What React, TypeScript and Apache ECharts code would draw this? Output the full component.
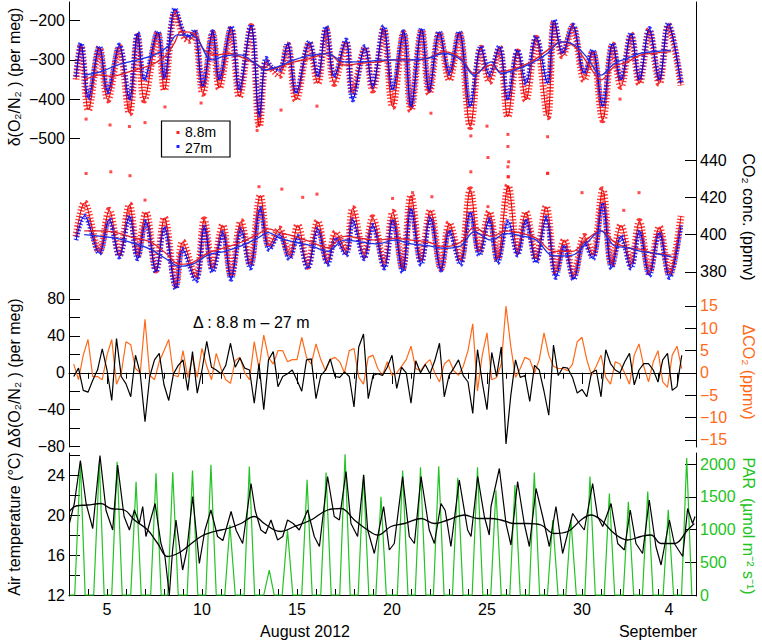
import React, { useEffect, useRef } from "react";
import * as echarts from "echarts";

const FONT = "Liberation Sans";

// x axis: day of August 2012 (32 = Sep 1)
const dayTicks = [4, 5, 6, 7, 8, 9, 10, 11, 12, 13, 14, 15, 16, 17, 18, 19, 20, 21, 22, 23, 24, 25, 26, 27, 28, 29, 30, 31, 32, 33, 34, 35];
const majorDays = [5, 10, 15, 20, 25, 30, 35];

const o2Ticks = [-500, -400, -300, -200];
const co2Ticks = [380, 400, 420, 440];
const dO2Ticks = [-80, -60, -40, -20, 0, 20, 40, 60, 80];
const dO2Labels = [-80, -40, 0, 40, 80];
const dCO2Ticks = [-15, -10, -5, 0, 5, 10, 15];
const tempTicks = [12, 14, 16, 18, 20, 22, 24, 26];
const tempLabels = [12, 16, 20, 24];
const parTicks = [0, 500, 1000, 1500, 2000];

// δ(O2/N2), per meg  [day, value]
const o2Blue = [
  [3.37, -343], [3.63, -258], [4.02, -398], [4.6, -266], [5.04, -381], [5.65, -262], [6.18, -402], [6.61, -232],
  [6.96, -351], [7.67, -228], [8.02, -347], [8.58, -169], [9.04, -232], [9.33, -241], [9.6, -224], [10.04, -368],
  [10.56, -228], [10.91, -351], [11.53, -215], [11.96, -377], [12.58, -211], [13.02, -441], [13.37, -296], [13.63, -317],
  [14.07, -326], [14.5, -258], [14.95, -385], [15.65, -254], [16.09, -343], [16.53, -215], [16.96, -343], [17.58, -249],
  [17.93, -402], [18.58, -266], [18.98, -368], [19.56, -215], [20.03, -377], [20.61, -228], [21.0, -419], [21.56, -220],
  [21.96, -377], [22.49, -228], [23.02, -334], [23.54, -228], [24.12, -419], [24.68, -266], [25.12, -338], [25.65, -266],
  [26.09, -402], [26.61, -275], [27.05, -360], [27.58, -241], [28.19, -360], [28.54, -198], [28.98, -283], [29.51, -211],
  [30.12, -334], [30.56, -275], [31.09, -419], [31.61, -258], [32.05, -351], [32.58, -232], [33.02, -351], [33.54, -220],
  [34.07, -351], [34.54, -207], [35.21, -360],
];
const o2Red = [
  [3.37, -350], [3.63, -265], [4.02, -428], [4.6, -270], [5.04, -402], [5.65, -268], [6.18, -436], [6.61, -240],
  [6.96, -402], [7.67, -232], [8.02, -377], [8.58, -180], [9.04, -240], [9.33, -250], [9.6, -232], [10.04, -385],
  [10.56, -232], [10.91, -372], [11.53, -222], [11.96, -394], [12.58, -215], [13.02, -470], [13.37, -305], [13.63, -320],
  [14.07, -340], [14.5, -262], [14.95, -402], [15.65, -258], [16.09, -360], [16.53, -222], [16.96, -360], [17.58, -255],
  [17.93, -385], [18.58, -270], [18.98, -377], [19.56, -222], [20.03, -419], [20.61, -232], [21.0, -428], [21.56, -225],
  [21.96, -385], [22.49, -232], [23.02, -351], [23.54, -232], [24.12, -470], [24.68, -270], [25.12, -355], [25.65, -270],
  [26.09, -445], [26.61, -280], [27.05, -402], [27.58, -245], [28.19, -445], [28.54, -205], [28.98, -290], [29.51, -215],
  [30.12, -351], [30.56, -280], [31.09, -453], [31.61, -262], [32.05, -368], [32.58, -236], [33.02, -360], [33.54, -225],
  [34.07, -360], [34.54, -212], [35.21, -365],
];
const o2RedOutliers = [
  [3.9, -451], [5.16, -466], [6.18, -470], [7.0, -460], [8.05, -420], [9.95, -410], [12.9, -480], [14.16, -428],
  [16.05, -418], [22.05, -436], [24.15, -494], [25.0, -469], [25.05, -549], [26.1, -490], [26.1, -521], [26.14, -560],
  [26.12, -598], [28.19, -496], [28.19, -589], [32.0, -400],
];
const o2SmoothRed = [
  [3.8, -351], [4.68, -338], [5.2, -342], [6.44, -326], [7.32, -313], [8.02, -292], [8.54, -258], [8.9, -228],
  [9.6, -233], [10.12, -275], [10.82, -287], [11.35, -283], [12.23, -296], [12.93, -313], [13.46, -326], [14.16, -317],
  [14.86, -305], [15.74, -296], [16.61, -283], [17.49, -313], [18.37, -309], [19.25, -305], [20.12, -300], [21.0, -300],
  [21.88, -296], [22.75, -279], [23.63, -296], [24.33, -335], [25.21, -313], [25.74, -330], [26.44, -322], [27.32, -305],
  [28.19, -275], [28.89, -254], [29.6, -266], [30.3, -309], [31.0, -351], [31.7, -317], [32.4, -305], [33.1, -287],
  [33.8, -283], [34.68, -279],
];
const o2SmoothBlue = [
  [3.8, -339], [4.68, -330], [5.56, -313], [6.6, -300], [7.5, -287], [8.2, -266], [8.7, -236], [9.6, -240],
  [10.5, -300], [11.2, -290], [12.0, -287], [12.8, -309], [13.3, -325], [14.0, -317], [14.86, -300], [15.74, -288],
  [16.61, -284], [17.49, -305], [18.37, -305], [19.25, -301], [20.12, -300], [21.0, -300], [21.88, -296], [22.75, -283],
  [23.63, -300], [24.33, -339], [25.21, -305], [25.74, -334], [26.44, -326], [27.32, -309], [28.19, -283], [28.89, -254],
  [29.6, -262], [30.3, -296], [31.0, -339], [31.7, -309], [32.4, -296], [33.1, -283], [33.8, -279], [34.68, -275],
];

// CO2, ppmv  [day, value]
const co2Blue = [
  [3.37, 397], [3.81, 410], [4.6, 390], [5.12, 408], [5.65, 388], [6.18, 410], [6.61, 387], [7.05, 407],
  [7.58, 380], [8.02, 404], [8.63, 371], [8.98, 392], [9.68, 375], [10.12, 404], [10.56, 380], [11.09, 401],
  [11.53, 376], [12.05, 403], [12.54, 382], [13.07, 414], [13.54, 392], [14.07, 400], [14.6, 387], [15.04, 399],
  [15.56, 382], [16.09, 403], [16.61, 384], [17.05, 398], [17.58, 389], [17.93, 408], [18.54, 387], [18.98, 405],
  [19.6, 382], [20.04, 408], [20.56, 380], [21.0, 414], [21.53, 384], [22.02, 409], [22.58, 381], [23.02, 402],
  [23.6, 384], [24.12, 412], [24.6, 389], [25.12, 408], [25.56, 385], [26.12, 407], [26.61, 389], [27.05, 408],
  [27.58, 385], [28.11, 409], [28.63, 377], [29.07, 394], [29.56, 376], [30.12, 396], [30.56, 387], [31.09, 417],
  [31.56, 382], [32.05, 399], [32.58, 382], [33.02, 402], [33.54, 378], [34.07, 401], [34.6, 377], [35.21, 405],
];
const co2Red = [
  [3.37, 399], [3.81, 417], [4.6, 391], [5.12, 413], [5.65, 389], [6.18, 416], [6.61, 389], [7.05, 412],
  [7.58, 381], [8.02, 409], [8.63, 373], [8.98, 396], [9.68, 377], [10.12, 408], [10.56, 382], [11.09, 405],
  [11.53, 378], [12.05, 407], [12.54, 384], [13.07, 421], [13.54, 394], [14.07, 403], [14.6, 389], [15.04, 405],
  [15.56, 383], [16.09, 407], [16.61, 386], [17.05, 401], [17.58, 391], [17.93, 414], [18.54, 389], [18.98, 409],
  [19.6, 384], [20.04, 412], [20.56, 382], [21.0, 421], [21.53, 386], [22.02, 413], [22.58, 382], [23.02, 406],
  [23.6, 386], [24.12, 424], [24.6, 391], [25.12, 412], [25.56, 387], [26.12, 426], [26.61, 391], [27.05, 412],
  [27.58, 387], [28.11, 415], [28.63, 380], [29.07, 397], [29.56, 378], [30.12, 399], [30.56, 389], [31.09, 424],
  [31.56, 384], [32.05, 405], [32.58, 384], [33.02, 407], [33.54, 380], [34.07, 404], [34.6, 379], [35.21, 410],
];
const co2RedOutliers = [
  [3.9, 432.8], [5.2, 433.7], [6.21, 431.6], [7.0, 418.5], [13.0, 425.7], [14.2, 424.4], [15.3, 420], [16.05, 421.7],
  [20.03, 419.4], [21.08, 422.5], [22.1, 420.3], [24.15, 433.7], [25.05, 415], [26.1, 425.7], [26.1, 436.4], [26.12, 431],
  [28.19, 432.8], [30.0, 422.5], [33.0, 422.5], [32.2, 413],
];
const co2SmoothRed = [
  [3.8, 402], [4.7, 402], [5.5, 401], [6.5, 398], [7.3, 396], [8.1, 390], [8.8, 384], [9.5, 385],
  [10.3, 390], [11.2, 393], [12.1, 396], [12.9, 400], [13.5, 403], [14.1, 401], [14.86, 399], [15.74, 396],
  [16.61, 393], [17.49, 399], [18.37, 398], [19.25, 397], [20.12, 398], [21.0, 397], [21.88, 396], [22.75, 393.5],
  [23.63, 396], [24.33, 404], [25.21, 399], [26.0, 402], [26.7, 401], [27.6, 398], [28.5, 391], [29.5, 391],
  [30.2, 397], [31.0, 402], [31.7, 396], [32.4, 393], [33.1, 392], [33.8, 390], [34.7, 389],
];
const co2SmoothBlue = [
  [3.8, 400], [4.7, 399], [5.5, 398], [6.5, 395], [7.3, 392], [8.1, 387], [8.8, 383], [9.5, 384],
  [10.3, 389], [11.2, 391], [12.1, 394], [12.9, 398], [13.5, 401], [14.1, 398], [14.86, 396], [15.74, 394],
  [16.61, 391], [17.49, 397], [18.37, 396], [19.25, 395], [20.12, 397], [21.0, 395], [21.88, 394], [22.75, 392.6],
  [23.63, 394], [24.33, 401.5], [25.21, 397], [26.0, 400.5], [26.7, 399.5], [27.6, 397], [28.5, 388.5], [29.5, 389],
  [30.2, 395], [31.0, 402], [31.7, 394], [32.4, 393], [33.1, 391], [33.8, 390], [34.7, 388],
];

// differences 8.8 m - 27 m, every 6 h from Aug 3.25
const deltaStart = 3.25;
const deltaStep = 0.25;
const dO2 = [
  -4, 5, -19, -21, -8, 3, 26, 3, -30, 37, -4, -12, -26, 19, -1, -53, -4, 14, 21, -13, -30, -1, 8, 14,
  -19, 23, -22, 3, 34, 6, 3, -1, 8, 32, 6, 16, 5, 3, -33, 10, -40, 14, 23, -15,
  -4, -1, 3, -8, -20, 14, 15, -28, -3, 3, 15, -4, -5, 1, -4, -37, 28, 42, -28, -3, -1, -3, 6, 19,
  -17, 6, 0, -33, 13, 0, 9, -1, 13, 32, -26, -3, 5, 14, -3, -10, -44, 25, -10, -40,
  22, -4, 28, -77, -25, 14, -5, -3, -31, 8, 3, -20, -46, 30, -3, 6, 5, -5, -22, -18, -26, 0, 3, -26,
  25, 10, 3, 0, 12, 21, -13, 3, 10, 10, 3, -10, 14, 21, -19, -15, 19,
];
const dCO2 = [
  2, -1.5, 4, 7.5, -0.8, -0.8, -1.5, 4, 7.5, -2.5, 0, 7, 6.3, 1, 0, 12, -0.5, -1.5, 2.5, 5, 7.5, -0.5, -0.8, 5,
  -1, 3.5, -1, 5.5, 1.5, -1.5, 4.4, 1, -1.5, -2.3, 2.8, 3.5, 0, -1.5, 7, 1, 8.5, 3.5, 2, 5,
  5, 2.5, 3, 3, 8, 3.5, 2, 6.5, 3, 0.5, 3, 3.5, 2.5, 0, 5, 5.5, -1, -2.5, 3.5, 4, 1, -0.5, 2.5, -0.5,
  0, 1.5, 3, 6, 1, 0.5, 2, 3, 0, -2, 2, 3, 0.5, -0.5, 1.5, 5, 11, -4, 4, 9,
  -1.5, -1, 2, 15, 6, -1, 1, 3.5, 3, 0, 3, 9, 4, 1.5, 1, 1, 0.5, 2, 7, 8, 3, -0.5, 1.5, 4,
  -1, -2.5, 2.5, 2, 0, -2.5, 4, 6.5, 1.5, -2, 2.5, 5, -2, -3.2, 4, 6, 1,
];

// air temperature (°C) [day, value]
const tempRaw = [
  [3.02, 19.2], [3.28, 21.2], [3.6, 25.5], [3.9, 21.2], [4.25, 18.7], [4.63, 26.0], [4.95, 20.5], [5.3, 18.55],
  [5.56, 25.05], [5.9, 19.9], [6.18, 18.55], [6.44, 20.55], [6.7, 19.2], [6.88, 20.9], [7.05, 17.9], [7.53, 21.2],
  [7.84, 17.2], [8.05, 15.9], [8.28, 12.05], [8.45, 16.5], [8.63, 19.55], [8.98, 14.55], [9.2, 16.5], [9.51, 21.9],
  [9.86, 15.2], [10.15, 18.5], [10.47, 20.55], [10.82, 17.9], [11.1, 17.5], [11.53, 20.4], [11.8, 18.5], [12.14, 17.2],
  [12.58, 23.2], [12.8, 20.5], [13.1, 18.55], [13.35, 18.2], [13.63, 19.55], [13.98, 17.55], [14.25, 17.9], [14.5, 19.55],
  [14.8, 19.2], [15.12, 18.55], [15.56, 20.55], [15.91, 17.9], [16.18, 16.9], [16.61, 23.9], [16.96, 19.9], [17.23, 19.55],
  [17.58, 24.4], [17.84, 19.2], [18.19, 17.9], [18.51, 24.05], [18.72, 18.55], [19.07, 16.2], [19.56, 20.9], [19.86, 16.55],
  [20.12, 17.2], [20.56, 23.9], [20.91, 17.9], [21.18, 17.2], [21.53, 23.9], [21.96, 18.55], [22.23, 17.2], [22.58, 21.2],
  [22.8, 20.5], [23.1, 16.9], [23.54, 23.55], [23.98, 18.55], [24.16, 17.9], [24.51, 23.9], [24.86, 19.9], [25.12, 18.05],
  [25.21, 20.9], [25.65, 24.7], [26.0, 19.2], [26.26, 17.05], [26.61, 23.4], [26.96, 19.2], [27.23, 16.9], [27.58, 22.7],
  [27.93, 19.9], [28.28, 16.9], [28.63, 20.9], [28.98, 16.2], [29.51, 20.2], [29.86, 19.2], [30.12, 18.55], [30.56, 23.2],
  [30.82, 19.9], [31.09, 18.9], [31.53, 21.2], [31.88, 17.2], [32.23, 16.55], [32.54, 20.55], [32.84, 17.2], [33.19, 16.2],
  [33.54, 21.55], [33.89, 16.9], [34.16, 15.05], [34.6, 19.55], [34.86, 17.2], [35.3, 15.9], [35.56, 20.7], [35.82, 19.2],
  [35.95, 19.9],
];
const tempSmooth = [
  [3.02, 20.4], [3.37, 20.95], [3.98, 21.05], [4.68, 21.2], [5.2, 20.7], [5.91, 20.55], [6.44, 19.55], [7.14, 18.55],
  [7.67, 17.2], [8.19, 15.9], [8.72, 16.2], [9.25, 16.9], [9.95, 17.9], [10.65, 18.4], [11.35, 18.7], [12.05, 19.2],
  [12.75, 19.9], [13.28, 19.2], [13.81, 18.55], [14.16, 18.4], [14.86, 18.9], [15.74, 19.55], [16.61, 20.55], [17.32, 20.7],
  [18.02, 19.55], [18.72, 18.55], [19.25, 18.05], [19.95, 18.9], [20.65, 19.2], [21.53, 19.7], [22.23, 19.2], [22.93, 19.55],
  [23.81, 20.05], [24.51, 19.7], [25.21, 19.7], [25.74, 19.55], [26.44, 19.2], [27.14, 19.2], [27.84, 19.05], [28.54, 18.2],
  [29.25, 18.4], [29.95, 19.55], [30.47, 20.05], [31.0, 19.55], [31.7, 18.2], [32.4, 17.55], [33.1, 17.9], [33.63, 18.05],
  [34.16, 17.2], [34.86, 17.2], [35.56, 18.55], [35.91, 19.2],
];

// PAR (µmol m-2 s-1) [day, value]
const parData = [
  [3.02, 0], [3.3, 0], [3.6, 2035], [3.85, 0], [4.3, 0], [4.6, 2020], [4.85, 0], [5.25, 0], [5.53, 2035], [5.8, 0],
  [6.25, 0], [6.53, 1730], [6.8, 0], [7.3, 0], [7.58, 1860], [7.85, 0], [8.2, 0], [8.46, 1875], [8.75, 0],
  [9.22, 0], [9.5, 1900], [9.78, 0], [10.2, 0], [10.47, 1990], [10.75, 0], [11.2, 0], [11.47, 1070], [11.75, 0],
  [12.22, 0], [12.49, 1960], [12.77, 0], [13.25, 0], [13.54, 380], [13.8, 0], [14.22, 0], [14.5, 990], [14.78, 0],
  [15.25, 0], [15.53, 1760], [15.8, 0], [16.25, 0], [16.53, 1870], [16.8, 0], [17.25, 0], [17.53, 2150], [17.8, 0],
  [18.22, 0], [18.5, 1840], [18.78, 0], [19.15, 0], [19.42, 1500], [19.7, 0], [20.28, 0], [20.56, 1900], [20.84, 0],
  [21.22, 0], [21.5, 1950], [21.78, 0], [22.18, 0], [22.46, 1965], [22.74, 0], [23.18, 0], [23.46, 1790], [23.74, 0],
  [24.22, 0], [24.5, 1950], [24.78, 0], [25.2, 0], [25.47, 1600], [25.75, 0], [26.2, 0], [26.47, 1680], [26.75, 0],
  [27.22, 0], [27.49, 1870], [27.77, 0], [28.18, 0], [28.46, 1145], [28.74, 0], [29.15, 0], [29.42, 1145], [29.7, 0],
  [30.15, 0], [30.42, 1810], [30.7, 0], [31.17, 0], [31.44, 1550], [31.72, 0], [32.17, 0], [32.44, 1425], [32.72, 0],
  [33.18, 0], [33.46, 1580], [33.74, 0], [34.27, 0], [34.54, 1300], [34.82, 0], [35.24, 0], [35.51, 2090], [35.78, 0],
];

const RED = "#ff1f1f";
const BLUE = "#1f1fff";
const ORANGE = "#ff6a1a";
const GREEN = "#22c322";

const minus = (v: number) => (v < 0 ? "\u2212" + Math.abs(v) : String(v));
const txt = (color = "#000") => ({ fontFamily: FONT, fontSize: 16, color });

const yAxisBase = (grid: number, position: string, min: number, max: number, ticks: number[], labels: number[], labelColor: string, showLine: boolean) => ({
  type: "value",
  gridIndex: grid,
  position,
  min,
  max,
  axisLine: { show: showLine, lineStyle: { color: "#000", width: 1 } },
  axisTick: { show: true, inside: true, length: 11, customValues: ticks, lineStyle: { color: "#000" } },
  axisLabel: { ...txt(labelColor), customValues: labels, margin: 4, formatter: minus },
  splitLine: { show: false },
});

const cloud = (name: string, data: number[][], color: string, x: number, y: number, width: number) => ({
  name,
  type: "line",
  xAxisIndex: x,
  yAxisIndex: y,
  data,
  smooth: 0.35,
  showSymbol: false,
  lineStyle: { color, width, type: [1.3, 1.9], opacity: 0.9 },
  z: 2,
});
const thin = (data: number[][], color: string, x: number, y: number, width = 1) => ({
  type: "line",
  xAxisIndex: x,
  yAxisIndex: y,
  data,
  smooth: 0.35,
  showSymbol: false,
  lineStyle: { color, width },
  z: 3,
});
const dots = (data: number[][], color: string, y: number) => ({
  type: "scatter",
  xAxisIndex: 0,
  yAxisIndex: y,
  data,
  symbol: "rect",
  symbolSize: 3,
  itemStyle: { color },
  z: 2,
});

const rotText = (text: string, x: number, y: number, left: boolean, color = "#000") => ({
  type: "text",
  x,
  y,
  rotation: left ? Math.PI / 2 : -Math.PI / 2,
  style: { text, fontFamily: FONT, fontSize: 16, fill: color, align: "center", verticalAlign: "middle" },
});

const option = {
  animation: false,
  grid: [
    { left: 69, right: 66, top: 2, height: 445 },
    { left: 69, right: 66, top: 453, height: 143 },
  ],
  xAxis: [
    {
      type: "value", gridIndex: 0, position: "top", min: 3, max: 36,
      axisLine: { show: true, lineStyle: { color: "#000", width: 1 } },
      axisTick: { show: true, inside: true, length: 6, customValues: dayTicks, lineStyle: { color: "#000" } },
      axisLabel: { show: false }, splitLine: { show: false },
    },
    {
      type: "value", gridIndex: 0, position: "top", min: 3, max: 36,
      axisLine: { show: false },
      axisTick: { show: true, inside: true, length: 11, customValues: majorDays, lineStyle: { color: "#000" } },
      axisLabel: { show: false }, splitLine: { show: false },
    },
    {
      type: "value", gridIndex: 1, position: "bottom", min: 3, max: 36,
      axisLine: { show: true, lineStyle: { color: "#000", width: 1 } },
      axisTick: { show: true, inside: true, length: 6, customValues: dayTicks, lineStyle: { color: "#000" } },
      axisLabel: {
        ...txt(), customValues: majorDays, margin: 5,
        formatter: (v: number) => (v > 31 ? "{s|" + (v - 31) + "}" : String(v)),
        rich: { s: { fontFamily: FONT, fontSize: 16, color: "#000", padding: [0, 16, 0, 0] } },
      },
      splitLine: { show: false },
    },
  ],
  yAxis: [
    yAxisBase(0, "left", -1287.5, -152.3, o2Ticks, o2Ticks, "#000", true),
    yAxisBase(0, "right", 285.9, 524.9, co2Ticks, co2Ticks, "#000", true),
    yAxisBase(0, "left", -80.4, 401.7, dO2Ticks, dO2Labels, "#000", false),
    yAxisBase(0, "right", -16.57, 83.06, dCO2Ticks, dCO2Ticks, ORANGE, false),
    yAxisBase(1, "left", 11.95, 26.25, tempTicks, tempLabels, "#000", true),
    yAxisBase(1, "right", -15, 2168, parTicks, parTicks, GREEN, true),
  ],
  series: [
    cloud("8.8m", o2Red, RED, 0, 0, 7),
    dots(o2RedOutliers, RED, 0),
    cloud("27m", o2Blue, BLUE, 0, 0, 5),
    thin(o2Red, "#e00000", 0, 0),
    thin(o2Blue, "#0000e0", 0, 0),
    thin(o2SmoothRed, "#e0202a", 0, 0, 1.3),
    thin(o2SmoothBlue, "#2030e0", 0, 0, 1.3),
    cloud("8.8m", co2Red, RED, 0, 1, 7),
    dots(co2RedOutliers, RED, 1),
    cloud("27m", co2Blue, BLUE, 0, 1, 5),
    thin(co2Red, "#e00000", 0, 1),
    thin(co2Blue, "#0000e0", 0, 1),
    thin(co2SmoothRed, "#e0202a", 0, 1, 1.3),
    thin(co2SmoothBlue, "#2030e0", 0, 1, 1.3),
    {
      type: "line", xAxisIndex: 0, yAxisIndex: 3, showSymbol: false,
      data: dCO2.map((v, i) => [deltaStart + i * deltaStep, v]),
      lineStyle: { color: ORANGE, width: 1.2 }, z: 2,
    },
    {
      type: "line", xAxisIndex: 0, yAxisIndex: 2, showSymbol: false,
      data: dO2.map((v, i) => [deltaStart + i * deltaStep, v]),
      lineStyle: { color: "#000", width: 1.2 }, z: 3,
      markLine: {
        silent: true, symbol: "none", label: { show: false },
        lineStyle: { color: "#000", type: [1, 2], width: 1 },
        data: [{ yAxis: 0 }],
      },
    },
    {
      type: "line", xAxisIndex: 2, yAxisIndex: 5, showSymbol: false, data: parData,
      lineStyle: { color: GREEN, width: 1.2 }, z: 2,
    },
    {
      type: "line", xAxisIndex: 2, yAxisIndex: 4, showSymbol: false, data: tempRaw,
      lineStyle: { color: "#000", width: 1.2 }, z: 3,
    },
    {
      type: "line", xAxisIndex: 2, yAxisIndex: 4, showSymbol: false, data: tempSmooth, smooth: 0.4,
      lineStyle: { color: "#000", width: 1.3 }, z: 3,
    },
  ],
  graphic: [
    rotText("δ(O₂/N₂ ) (per meg)", 14, 77, true),
    rotText("Δδ(O₂/N₂ ) (per meg)", 14, 373, true),
    rotText("Air temperature (°C)", 14, 524, true),
    rotText("CO₂ conc. (ppmv)", 748, 217, false),
    rotText("ΔCO₂ (ppmv)", 748, 372, false, ORANGE),
    rotText("PAR  (µmol m⁻² s⁻¹)", 748, 526, false, GREEN),
    {
      type: "text", x: 193, y: 322,
      style: { text: "Δ : 8.8 m – 27 m", fontFamily: FONT, fontSize: 16, fill: "#000", verticalAlign: "middle" },
    },
    {
      type: "text", x: 305, y: 631,
      style: { text: "August 2012", fontFamily: FONT, fontSize: 16, fill: "#000", align: "center", verticalAlign: "middle" },
    },
    {
      type: "text", x: 658, y: 631,
      style: { text: "September", fontFamily: FONT, fontSize: 16, fill: "#000", align: "center", verticalAlign: "middle" },
    },
    {
      type: "group",
      z: 100,
      children: [
        { type: "rect", shape: { x: 161.5, y: 121, width: 68.5, height: 36 }, style: { fill: "#fff", stroke: "#000", lineWidth: 1.2 } },
        { type: "rect", shape: { x: 176.5, y: 131, width: 3, height: 3 }, style: { fill: RED } },
        { type: "text", x: 185, y: 132, style: { text: "8.8m", fontFamily: FONT, fontSize: 14, lineHeight: 14, fill: "#000", verticalAlign: "middle" } },
        { type: "rect", shape: { x: 176.5, y: 145, width: 3, height: 3 }, style: { fill: BLUE } },
        { type: "text", x: 185, y: 147.5, style: { text: "27m", fontFamily: FONT, fontSize: 14, lineHeight: 14, fill: "#000", verticalAlign: "middle" } },
      ],
    },
  ],
};

export default function App() {
  const ref = useRef<HTMLDivElement>(null);

  useEffect(() => {
    if (!ref.current) return;
    const chart = echarts.init(ref.current, null, { renderer: "svg" });
    chart.setOption(option as any);
    return () => {
      chart.dispose();
    };
  }, []);

  return <div ref={ref} style={{ position: "absolute", left: 0, top: 0, width: 762, height: 640 }} />;
}
